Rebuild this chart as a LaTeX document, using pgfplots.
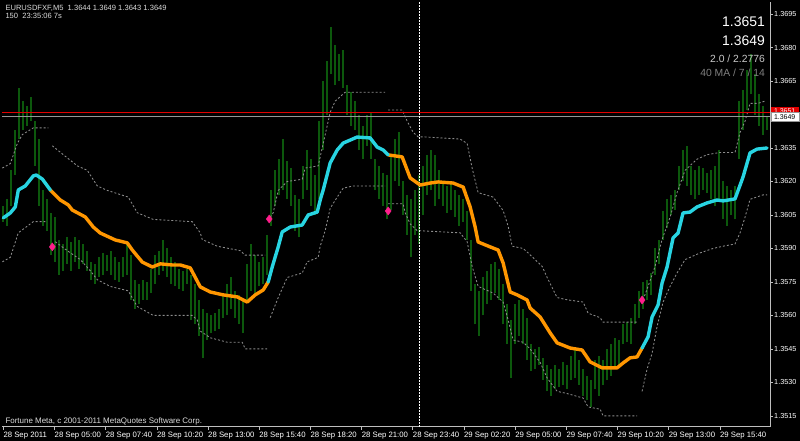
\documentclass[border=0pt]{standalone}
\usepackage{fontspec}
\setmainfont{Liberation Sans}
\usepackage{pgfplots}
\pgfplotsset{compat=1.18}
\usepackage{pgfplotstable}
\definecolor{bargreen}{RGB}{12,88,12}
\definecolor{bandgray}{RGB}{140,140,140}
\definecolor{macyan}{RGB}{40,212,226}
\definecolor{maorange}{RGB}{255,150,0}
\definecolor{mtpink}{RGB}{255,30,140}
\definecolor{mtred}{RGB}{225,0,0}
\definecolor{axgray}{RGB}{190,190,190}
\definecolor{asklinegray}{RGB}{150,150,150}

\pgfplotstableread{
x lo hi
3 1.3602 1.3609
7 1.3600 1.3612
11 1.3609 1.3625
15 1.3623 1.3643
19 1.3639 1.3662
23 1.3643 1.3656
27 1.3645 1.3654
31 1.3647 1.3658
35 1.3627 1.3647
39 1.3609 1.3639
43 1.3600 1.3616
47 1.3598 1.3612
51 1.3587 1.3606
55 1.3584 1.3604
59 1.3578 1.3594
63 1.3580 1.3592
67 1.3583 1.3595
71 1.3580 1.3593
75 1.3584 1.3595
79 1.3581 1.3594
83 1.3583 1.3592
87 1.3580 1.3589
91 1.3576 1.3584
95 1.3574 1.3583
99 1.3577 1.3586
103 1.3578 1.3588
107 1.3580 1.3587
111 1.3578 1.3589
115 1.3576 1.3586
119 1.3575 1.3584
123 1.3577 1.3586
127 1.3578 1.3593
131 1.3567 1.3587
135 1.3563 1.3576
139 1.3565 1.3574
143 1.3567 1.3576
147 1.3567 1.3575
151 1.3570 1.3581
155 1.3574 1.3587
159 1.3578 1.3589
163 1.3580 1.3594
167 1.3577 1.3590
171 1.3574 1.3586
175 1.3573 1.3584
179 1.3572 1.3581
183 1.3571 1.3580
187 1.3574 1.3581
191 1.3558 1.3578
195 1.3556 1.3574
199 1.3551 1.3567
203 1.3541 1.3563
207 1.3549 1.3561
211 1.3552 1.3560
215 1.3553 1.3561
219 1.3554 1.3563
223 1.3559 1.3569
227 1.3560 1.3574
231 1.3563 1.3577
235 1.3559 1.3571
239 1.3556 1.3569
243 1.3552 1.3567
247 1.3567 1.3583
251 1.3571 1.3592
255 1.3569 1.3587
259 1.3573 1.3584
263 1.3574 1.3586
267 1.3578 1.3596
271 1.3600 1.3616
275 1.3609 1.3625
279 1.3614 1.3630
283 1.3616 1.3639
287 1.3612 1.3629
291 1.3609 1.3626
295 1.3598 1.3614
299 1.3595 1.3612
303 1.3612 1.3627
307 1.3616 1.3634
311 1.3609 1.3630
315 1.3605 1.3623
319 1.3612 1.3647
323 1.3634 1.3665
327 1.3650 1.3674
331 1.3668 1.3689
335 1.3663 1.3681
339 1.3665 1.3677
343 1.3662 1.3679
347 1.3650 1.3663
351 1.3645 1.3660
355 1.3643 1.3656
359 1.3634 1.3650
363 1.3630 1.3645
367 1.3636 1.3650
371 1.3630 1.3651
375 1.3616 1.3630
379 1.3612 1.3627
383 1.3609 1.3624
387 1.3603 1.3623
391 1.3607 1.3632
395 1.3620 1.3639
399 1.3618 1.3642
403 1.3605 1.3620
407 1.3596 1.3614
411 1.3586 1.3612
415 1.3596 1.3616
419 1.3592 1.3623
423 1.3605 1.3627
427 1.3614 1.3632
431 1.3616 1.3634
435 1.3609 1.3632
439 1.3612 1.3625
443 1.3609 1.3620
447 1.3606 1.3618
451 1.3607 1.3619
455 1.3604 1.3616
459 1.3600 1.3614
463 1.3602 1.3612
467 1.3594 1.3607
471 1.3571 1.3594
475 1.3556 1.3574
479 1.3551 1.3571
483 1.3560 1.3577
487 1.3565 1.3580
491 1.3567 1.3583
495 1.3570 1.3584
499 1.3567 1.3581
503 1.3556 1.3574
507 1.3547 1.3565
511 1.3532 1.3558
515 1.3547 1.3565
519 1.3551 1.3567
523 1.3547 1.3563
527 1.3540 1.3559
531 1.3535 1.3547
535 1.3536 1.3545
539 1.3538 1.3546
543 1.3531 1.3541
547 1.3526 1.3538
551 1.3524 1.3536
555 1.3527 1.3538
559 1.3528 1.3536
563 1.3529 1.3539
567 1.3527 1.3538
571 1.3531 1.3542
575 1.3532 1.3545
579 1.3529 1.3540
583 1.3524 1.3536
587 1.3522 1.3533
591 1.3519 1.3531
595 1.3527 1.3540
599 1.3524 1.3542
603 1.3529 1.3540
607 1.3531 1.3545
611 1.3533 1.3547
615 1.3536 1.3550
619 1.3538 1.3549
623 1.3547 1.3556
627 1.3548 1.3557
631 1.3547 1.3559
635 1.3556 1.3565
639 1.3559 1.3571
643 1.3563 1.3575
647 1.3567 1.3576
651 1.3569 1.3579
655 1.3578 1.3590
659 1.3583 1.3594
663 1.3594 1.3607
667 1.3599 1.3612
671 1.3605 1.3614
675 1.3607 1.3616
679 1.3616 1.3627
683 1.3620 1.3634
687 1.3618 1.3636
691 1.3614 1.3627
695 1.3612 1.3625
699 1.3614 1.3627
703 1.3616 1.3626
707 1.3615 1.3624
711 1.3612 1.3625
715 1.3609 1.3627
719 1.3612 1.3634
723 1.3603 1.3620
727 1.3600 1.3618
731 1.3605 1.3616
735 1.3603 1.3618
739 1.3630 1.3656
743 1.3643 1.3661
747 1.3652 1.3670
751 1.3659 1.3677
755 1.3650 1.3668
759 1.3645 1.3659
763 1.3641 1.3654
767 1.3643 1.3649
}\bars

\pgfplotstableread{
x y
3 1.36037
10 1.36059
15 1.36086
18 1.36162
25 1.36180
33 1.36225
36 1.36229
42 1.36211
50 1.36162
nan nan
268 1.35750
272 1.35817
278 1.35907
282 1.35974
290 1.35996
302 1.36005
308 1.36050
317 1.36063
320 1.36117
323 1.36162
330 1.36283
337 1.36341
343 1.36372
357 1.36399
370 1.36395
377 1.36354
383 1.36341
388 1.36319
nan nan
642 1.35454
648 1.35504
652 1.35593
658 1.35647
662 1.35745
667 1.35817
673 1.35947
678 1.35969
683 1.36059
690 1.36063
697 1.36086
707 1.36104
717 1.36117
723 1.36113
735 1.36122
743 1.36220
750 1.36328
757 1.36345
767 1.36350
}\macyantab

\pgfplotstableread{
x y
50 1.36162
60 1.36117
68 1.36095
72 1.36072
85 1.36041
93 1.35996
100 1.35969
115 1.35938
127 1.35925
132 1.35893
142 1.35839
152 1.35817
160 1.35831
172 1.35826
180 1.35826
190 1.35813
200 1.35728
210 1.35705
223 1.35692
237 1.35683
247 1.35660
255 1.35692
263 1.35714
268 1.35750
nan nan
388 1.36319
402 1.36310
410 1.36216
420 1.36184
430 1.36193
438 1.36198
453 1.36193
463 1.36175
470 1.36086
475 1.35996
478 1.35929
490 1.35907
498 1.35893
503 1.35835
510 1.35705
517 1.35692
527 1.35669
530 1.35633
540 1.35593
550 1.35522
557 1.35477
570 1.35454
582 1.35445
590 1.35392
602 1.35365
617 1.35365
623 1.35387
630 1.35410
637 1.35414
642 1.35454
}\maorangetab

\pgfplotstableread{
x y
2 1.3626
10 1.3628
17 1.3637
22 1.3641
33 1.3644
48 1.3644
nan nan
52 1.3636
63 1.3632
77 1.3627
87 1.3625
97 1.3618
107 1.3616
128 1.3613
137 1.3606
153 1.3603
192 1.3602
200 1.3597
202 1.3594
217 1.3591
240 1.3589
245 1.3587
265 1.3587
nan nan
270 1.3604
273 1.3606
278 1.3616
287 1.3620
302 1.3621
305 1.3626
318 1.3627
323 1.3637
330 1.3651
335 1.3656
345 1.3660
353 1.3660
385 1.3660
nan nan
388 1.3652
402 1.3652
407 1.3647
413 1.3642
418 1.3640
423 1.3640
460 1.3639
467 1.3637
472 1.3626
478 1.3615
493 1.3613
503 1.3607
508 1.3600
512 1.3591
523 1.3590
528 1.3588
542 1.3582
547 1.3577
557 1.3568
567 1.3567
583 1.3566
588 1.3561
600 1.3559
603 1.3557
637 1.3557
nan nan
643 1.3567
648 1.3573
655 1.3582
662 1.3594
670 1.3604
677 1.3615
685 1.3625
697 1.3630
707 1.3632
720 1.3633
735 1.3633
740 1.3642
745 1.3647
750 1.3655
758 1.3655
765 1.3656
}\upperband

\pgfplotstableread{
x y
2 1.3584
10 1.3586
18 1.3597
27 1.3600
33 1.3602
45 1.3602
nan nan
55 1.3593
67 1.3589
80 1.3585
90 1.3580
97 1.3576
110 1.3573
128 1.3571
137 1.3564
153 1.3560
192 1.3560
197 1.3558
200 1.3553
210 1.3550
227 1.3548
242 1.3548
245 1.3545
267 1.3545
nan nan
270 1.3559
278 1.3568
287 1.3577
302 1.3579
307 1.3584
318 1.3586
320 1.3591
325 1.3598
330 1.3608
337 1.3613
343 1.3617
353 1.3618
385 1.3618
nan nan
388 1.3610
403 1.3610
405 1.3606
410 1.3601
417 1.3598
460 1.3597
467 1.3593
472 1.3582
478 1.3573
493 1.3570
503 1.3566
508 1.3558
513 1.3549
523 1.3548
530 1.3545
540 1.3539
547 1.3532
557 1.3526
567 1.3525
583 1.3523
588 1.3519
600 1.3518
603 1.3515
637 1.3515
nan nan
642 1.3526
647 1.3536
652 1.3543
657 1.3555
663 1.3566
670 1.3573
677 1.3579
685 1.3585
700 1.3588
713 1.3590
723 1.3591
735 1.3592
740 1.3597
745 1.3604
750 1.3612
763 1.3614
767 1.3614
}\lowerband

\begin{document}
\begin{tikzpicture}[x=1bp,y=1bp]
\fill[black] (0,0) rectangle (800,441);
\begin{axis}[
  at={(2bp,14bp)}, anchor=south west,
  scale only axis, width=768bp, height=425bp,
  xmin=2, xmax=770, ymin=1.35101, ymax=1.37004,
  clip=false,
  axis x line*=bottom, axis y line*=right,
  axis line style={draw=axgray, line width=0.8bp},
  tick style={draw=axgray, line width=0.6bp},
  major tick length=3bp, tick align=outside,
  xtick={3,54.2,105.4,156.6,207.8,259,310.2,361.4,412.6,463.8,515,566.2,617.4,668.6,719.8},
  xticklabels={28 Sep 2011,28 Sep 05:00,28 Sep 07:40,28 Sep 10:20,28 Sep 13:00,28 Sep 15:40,28 Sep 18:20,28 Sep 21:00,28 Sep 23:40,29 Sep 02:20,29 Sep 05:00,29 Sep 07:40,29 Sep 10:20,29 Sep 13:00,29 Sep 15:40},
  xticklabel style={anchor=north west, xshift=-1bp, yshift=-1bp, inner sep=1bp, font=\fontsize{7.8}{8}\selectfont, text=white},
  ytick={1.3515,1.3530,1.3545,1.3560,1.3575,1.3590,1.3605,1.3620,1.3635,1.3665,1.3680,1.3695},
  yticklabel={\pgfmathprintnumber[fixed,fixed zerofill,precision=4,assume math mode=true]{\tick}},
  yticklabel style={anchor=west, inner sep=1bp, font=\fontsize{7.3}{8}\selectfont, text=white},
  scaled y ticks=false,
  unbounded coords=jump,
]
\addplot[draw=none, mark=none, forget plot,
  error bars/.cd, y dir=plus, y explicit, error mark=none,
  error bar style={draw=bargreen, line width=1.7bp}]
  table[x=x, y=lo, y error plus expr=\thisrow{hi}-\thisrow{lo}] {\bars};
\addplot[bandgray, line width=0.85bp, dash pattern=on 2bp off 2bp, mark=none] table[x=x,y=y] {\upperband};
\addplot[bandgray, line width=0.85bp, dash pattern=on 2bp off 2bp, mark=none] table[x=x,y=y] {\lowerband};
\addplot[mtred, line width=1bp, mark=none] coordinates {(2,1.3651) (770,1.3651)};
\addplot[asklinegray, line width=0.9bp, mark=none] coordinates {(2,1.3649) (770,1.3649)};
\addplot[white, line width=0.8bp, dash pattern=on 1.5bp off 1.5bp, mark=none] coordinates {(419,1.35101) (419,1.37004)};
\addplot[maorange, line width=3.4bp, line join=round, line cap=round, mark=none] table[x=x,y=y] {\maorangetab};
\addplot[macyan, line width=3.4bp, line join=round, line cap=round, mark=none] table[x=x,y=y] {\macyantab};
\addplot[only marks, mark=diamond*, mark size=4bp, color=mtpink] coordinates {(52,1.35907) (269,1.36032) (388,1.36068) (642,1.35669)};
\end{axis}
% price labels on the right scale
\node[fill=mtred, anchor=west, minimum height=9bp, minimum width=28bp, inner sep=0.5bp, font=\fontsize{7}{7}\selectfont, text=white] at (770.5,329.5) {1.3651};
\node[fill=white, draw=asklinegray, anchor=west, minimum height=8.5bp, minimum width=28bp, inner sep=0.5bp, font=\fontsize{7}{7}\selectfont, text=black] at (770.5,324) {1.3649};
% texts
\node[anchor=base west, inner sep=0pt, font=\fontsize{7.6}{8}\selectfont, text={rgb,255:red,220;green,220;blue,220}] at (5,430) {EURUSDFXF,M5\ \ 1.3644 1.3649 1.3643 1.3649};
\node[anchor=base west, inner sep=0pt, font=\fontsize{7.6}{8}\selectfont, text={rgb,255:red,220;green,220;blue,220}] at (5,422) {150\ \ 23:35:06 7s};
\node[anchor=base east, inner sep=0pt, font=\fontsize{14}{14}\selectfont, text=white] at (765,414) {1.3651};
\node[anchor=base east, inner sep=0pt, font=\fontsize{14}{14}\selectfont, text=white] at (765,395) {1.3649};
\node[anchor=base east, inner sep=0pt, font=\fontsize{10.4}{11}\selectfont, text={rgb,255:red,200;green,200;blue,200}] at (765,378) {2.0 / 2.2776};
\node[anchor=base east, inner sep=0pt, font=\fontsize{10.4}{11}\selectfont, text={rgb,255:red,128;green,128;blue,128}] at (765,364) {40 MA / 7 / 14};
\node[anchor=base west, inner sep=0pt, font=\fontsize{8}{8}\selectfont, text={rgb,255:red,220;green,220;blue,220}] at (5,17) {Fortune Meta, c 2001-2011 MetaQuotes Software Corp.};
\end{tikzpicture}
\end{document}
